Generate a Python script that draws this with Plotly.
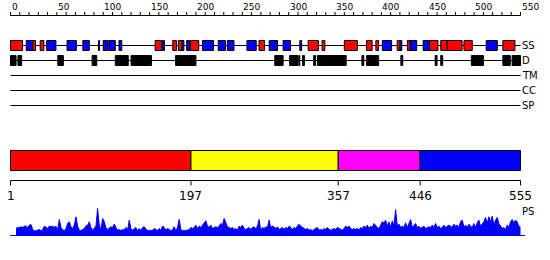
import plotly.graph_objects as go
import numpy as np

# ---------------- data ----------------
ruler_end = 550            # top ruler / feature tracks coordinate range
protein_length = 555       # bottom domain axis
ruler_ticks = list(range(0, 551, 10))
ruler_labels = list(range(0, 551, 50))
track_names = ["SS", "D", "TM", "CC", "SP"]

# secondary structure elements (H = helix red, E = strand blue), in ruler coordinates
ss_start = [1, 18, 25, 33, 40, 62, 79, 96, 101, 107, 118, 157, 165, 176, 182, 186, 191, 195, 208, 225, 235, 256,
            269, 280, 295, 313, 322, 337, 361, 385, 395, 402, 418, 421, 429, 432, 446, 453, 465, 472, 490, 514, 532]
ss_end = [13, 24, 27, 36, 49, 71, 85, 96, 105, 113, 120, 163, 166, 179, 185, 187, 193, 203, 219, 232, 241, 265,
          274, 288, 302, 314, 332, 339, 374, 390, 397, 411, 420, 422, 431, 438, 452, 461, 471, 487, 498, 525, 544]
ss_type = ["H", "E", "H", "H", "E", "E", "E", "E", "E", "E", "E", "H", "E", "H", "H", "E", "E", "H", "E", "E", "E", "E",
           "H", "E", "E", "E", "H", "H", "H", "H", "H", "E", "H", "E", "H", "E", "E", "H", "H", "H", "H", "E", "H"]

# disordered regions, in ruler coordinates
d_start = [1, 9, 52, 89, 114, 131, 179, 286, 302, 312, 316, 328, 332, 380, 385, 422, 459, 465, 498, 532, 542]
d_end = [6, 12, 57, 93, 127, 152, 200, 294, 310, 312, 317, 329, 362, 381, 397, 423, 460, 466, 510, 539, 550]

# domain boundaries
domain_bounds = [1, 197, 357, 446, 555]
domain_colors = ["#ff0000", "#ffff00", "#ff00ff", "#0000ff"]

# PS profile (relative score)
ps_val = [21, 24, 24, 26, 24, 28, 28, 24, 31, 33, 18, 14, 14, 16, 18, 14, 18, 28, 24, 21, 28, 26, 28, 24, 28, 16,
          48, 24, 18, 14, 21, 36, 41, 26, 21, 31, 56, 28, 16, 14, 18, 21, 28, 31, 41, 24, 16, 21, 28, 81, 31, 18,
          51, 41, 24, 18, 21, 26, 24, 34, 24, 16, 18, 14, 18, 16, 24, 16, 46, 21, 16, 21, 24, 14, 21, 14, 24, 26,
          18, 14, 16, 14, 16, 21, 18, 14, 21, 16, 28, 24, 16, 21, 18, 14, 18, 26, 14, 24, 48, 18, 14, 16, 14, 16,
          18, 24, 21, 24, 31, 21, 28, 24, 31, 36, 44, 28, 24, 31, 21, 24, 26, 24, 28, 36, 31, 51, 36, 26, 24, 21,
          24, 18, 21, 16, 28, 24, 31, 21, 18, 21, 24, 18, 24, 26, 21, 28, 48, 14, 24, 21, 26, 24, 46, 24, 28, 26,
          21, 26, 18, 21, 24, 18, 24, 21, 28, 24, 18, 24, 21, 28, 34, 28, 24, 21, 18, 21, 16, 18, 14, 18, 21, 24,
          16, 18, 16, 21, 18, 24, 18, 16, 18, 21, 18, 24, 21, 18, 16, 21, 28, 24, 28, 21, 18, 21, 18, 21, 16, 24,
          21, 28, 24, 31, 21, 28, 24, 36, 28, 24, 21, 31, 41, 38, 46, 28, 41, 24, 44, 28, 78, 28, 34, 24, 28, 24,
          38, 24, 36, 48, 24, 31, 36, 24, 28, 21, 24, 28, 21, 24, 26, 24, 31, 24, 36, 24, 28, 21, 24, 31, 24, 28,
          31, 28, 24, 34, 28, 31, 24, 41, 46, 26, 31, 24, 34, 28, 24, 36, 24, 38, 46, 28, 36, 41, 54, 36, 56, 41,
          58, 31, 46, 54, 36, 28, 21, 24, 18, 31, 24, 41, 48, 38, 46, 41, 28, 24]
ps_res = np.linspace(7, 555, len(ps_val))

# ---------------- layout helpers (pixel geometry) ----------------
W, H = 550, 260
s1 = 510 / float(ruler_end)            # px per unit, top (0 -> 10.5px, 550 -> 520.5px)
s2 = 510 / float(protein_length - 1)   # px per unit, bottom (1 -> 10.5px, 555 -> 520.5px)
x1_range = [-10.5 / s1, (W - 10.5) / s1]
x2_range = [1 - 10.5 / s2, 1 + (W - 10.5) / s2]

FONT = "DejaVu Sans"
shapes = []
annotations = []

def hline(xref, xa, xb, y, color="black", width=1):
    shapes.append(dict(type="line", xref=xref, yref="y", x0=xa, x1=xb, y0=y, y1=y,
                       line=dict(color=color, width=width)))

# ruler
hline("x", 0, ruler_end, 15.5)
for t in ruler_ticks:
    shapes.append(dict(type="line", xref="x", yref="y", x0=t, x1=t, y0=12, y1=15.5,
                       line=dict(color="black", width=1)))
for t in ruler_labels:
    annotations.append(dict(x=t, y=7, xref="x", yref="y", text=str(t), showarrow=False,
                            xanchor="left", yanchor="middle", xshift=-1,
                            font=dict(family=FONT, size=9, color="black")))

# tracks
track_y = [45.5, 60.5, 75.5, 90.5, 105.5]
for name, ty in zip(track_names, track_y):
    hline("x", 0, ruler_end, ty)
    annotations.append(dict(x=ruler_end, y=ty, xref="x", yref="y", text=name, showarrow=False,
                            xanchor="left", yanchor="middle", xshift=-1,
                            font=dict(family=FONT, size=10, color="black")))

ss_color = {"H": "#ff0000", "E": "#0000ff"}
for a, b, t in zip(ss_start, ss_end, ss_type):
    shapes.append(dict(type="rect", xref="x", yref="y", x0=a - 1, x1=b, y0=40.5, y1=50.5,
                       fillcolor=ss_color[t], line=dict(color="black", width=1)))

for a, b in zip(d_start, d_end):
    shapes.append(dict(type="rect", xref="x", yref="y", x0=a - 1, x1=b, y0=55.5, y1=65.5,
                       fillcolor="black", line=dict(color="black", width=1)))

# domain bar
for i, c in enumerate(domain_colors):
    shapes.append(dict(type="rect", xref="x2", yref="y", x0=domain_bounds[i], x1=domain_bounds[i + 1],
                       y0=150.5, y1=170.5, fillcolor=c, line=dict(color="black", width=1)))

# bottom axis
hline("x2", 1, protein_length, 180.5)
for b in domain_bounds:
    shapes.append(dict(type="line", xref="x2", yref="y", x0=b, x1=b, y0=180.5, y1=185.5,
                       line=dict(color="black", width=1)))
    annotations.append(dict(x=b, y=195.5, xref="x2", yref="y", text=str(b), showarrow=False,
                            xanchor="center", yanchor="middle",
                            font=dict(family=FONT, size=12, color="black")))

annotations.append(dict(x=protein_length, y=211, xref="x2", yref="y", text="PS", showarrow=False,
                        xanchor="left", yanchor="middle", xshift=-1,
                        font=dict(family=FONT, size=10, color="black")))

# PS baseline
hline("x2", 0.5, 560, 235.5, color="#0000ff")

fig = go.Figure()
fig.add_trace(go.Scatter(x=[0, 1], y=[0, 0], xaxis="x", yaxis="y", mode="markers",
                         marker=dict(opacity=0), hoverinfo="skip", showlegend=False))
fig.add_trace(go.Scatter(x=ps_res, y=ps_val, xaxis="x2", yaxis="y2", mode="lines",
                         fill="tozeroy", fillcolor="#0000ff", line=dict(color="#0000ff", width=1),
                         hoverinfo="skip", showlegend=False))

ps_top = 90.0
y2_dom = [(H - 235.5) / H, (H - 235.5 + ps_top / 3.0) / H]

fig.update_layout(
    width=W, height=H, autosize=False,
    margin=dict(l=0, r=0, t=0, b=0, pad=0),
    paper_bgcolor="white", plot_bgcolor="rgba(0,0,0,0)",
    showlegend=False,
    xaxis=dict(range=x1_range, domain=[0, 1], visible=False, fixedrange=True),
    xaxis2=dict(range=x2_range, domain=[0, 1], visible=False, fixedrange=True, overlaying="x"),
    yaxis=dict(range=[H, 0], domain=[0, 1], visible=False, fixedrange=True),
    yaxis2=dict(range=[0, ps_top], domain=y2_dom, visible=False, fixedrange=True, anchor="x2"),
    shapes=shapes,
    annotations=annotations,
)

fig.write_html("out.html", config={"displayModeBar": False, "staticPlot": True})
